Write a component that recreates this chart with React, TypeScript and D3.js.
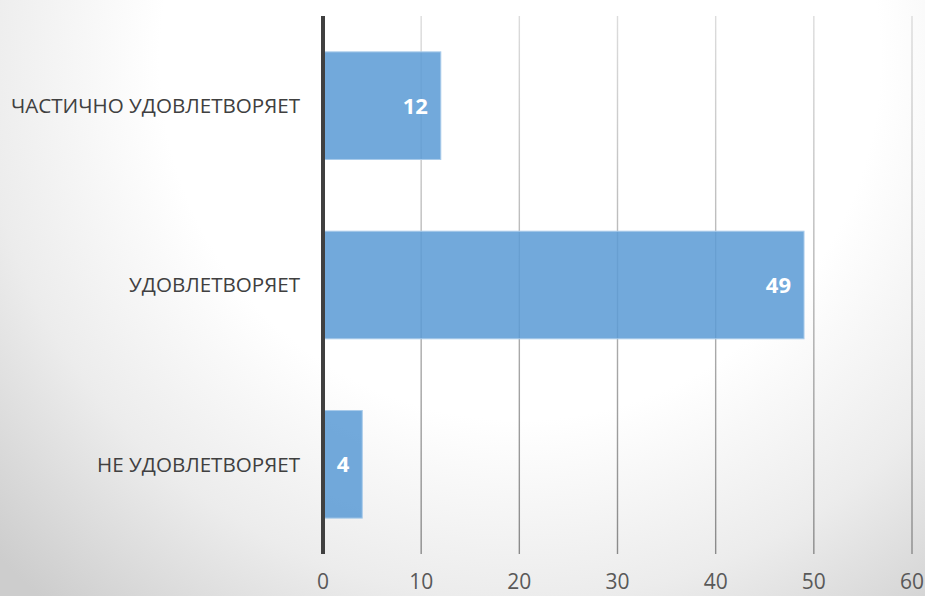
import React, { useEffect } from 'react';
import * as d3 from 'd3';

// data
const categories = ['ЧАСТИЧНО УДОВЛЕТВОРЯЕТ', 'УДОВЛЕТВОРЯЕТ', 'НЕ УДОВЛЕТВОРЯЕТ'];
const values = [12, 49, 4];
const xTicks = [0, 10, 20, 30, 40, 50, 60];

const W = 925;
const H = 596;
const margin = { top: 16, right: 13, bottom: 42, left: 323 };
const FONT = "'Open Sans', 'DejaVu Sans', sans-serif";

export default function App() {
  useEffect(() => {
    document.body.style.margin = '0';
  }, []);

  const xScale = d3.scaleLinear().domain([0, 60]).range([margin.left, W - margin.right]);
  const yScale = d3
    .scaleBand<string>()
    .domain(categories)
    .range([margin.top, H - margin.bottom])
    .paddingInner(0.4)
    .paddingOuter(0.2);

  const y0 = margin.top;
  const y1 = H - margin.bottom;

  return (
    <svg width={W} height={H} style={{ display: 'block' }}>
      <defs>
        <radialGradient id="bg" gradientUnits="userSpaceOnUse" cx={520} cy={60} r={720}>
          <stop offset="0" stopColor="#ffffff" />
          <stop offset="0.5" stopColor="#ffffff" />
          <stop offset="0.75" stopColor="#ececec" />
          <stop offset="1" stopColor="#cdcdcd" />
        </radialGradient>
        <linearGradient id="grid" gradientUnits="userSpaceOnUse" x1={0} y1={y0} x2={0} y2={y1}>
          <stop offset="0" stopColor="#dcdcdc" />
          <stop offset="1" stopColor="#8a8a8a" />
        </linearGradient>
      </defs>
      <rect x={0} y={0} width={W} height={H} fill="url(#bg)" />

      {/* vertical gridlines */}
      <g>
        {xTicks.slice(1).map(t => (
          <line
            key={t}
            x1={xScale(t)}
            x2={xScale(t)}
            y1={y0}
            y2={y1}
            stroke="url(#grid)"
            strokeWidth={1.4}
          />
        ))}
      </g>

      {/* bars */}
      <g>
        {categories.map((c, i) => (
          <rect
            key={c}
            x={xScale(0)}
            y={yScale(c)}
            width={xScale(values[i]) - xScale(0)}
            height={yScale.bandwidth()}
            fill="#5b9bd5"
            fillOpacity={0.86}
            stroke="#a9cbea"
            strokeWidth={1}
          />
        ))}
      </g>

      {/* value labels */}
      <g>
        {categories.map((c, i) => (
          <text
            key={c}
            x={xScale(values[i]) - 13}
            y={(yScale(c) as number) + yScale.bandwidth() / 2}
            dy="0.36em"
            textAnchor="end"
            fill="#ffffff"
            fontFamily={FONT}
            fontWeight={700}
            fontSize={22}
          >
            {values[i]}
          </text>
        ))}
      </g>

      {/* category axis line */}
      <line x1={xScale(0)} x2={xScale(0)} y1={y0} y2={y1} stroke="#404040" strokeWidth={4} />

      {/* category labels */}
      <g>
        {categories.map(c => (
          <text
            key={c}
            x={300}
            y={(yScale(c) as number) + yScale.bandwidth() / 2}
            dy="0.36em"
            textAnchor="end"
            fill="#404040"
            fontFamily={FONT}
            fontSize={20.6}
          >
            {c}
          </text>
        ))}
      </g>

      {/* value axis labels */}
      <g>
        {xTicks.map(t => (
          <text
            key={t}
            x={xScale(t)}
            y={589}
            textAnchor="middle"
            fill="#595959"
            fontFamily={FONT}
            fontSize={21}
          >
            {t}
          </text>
        ))}
      </g>
    </svg>
  );
}
